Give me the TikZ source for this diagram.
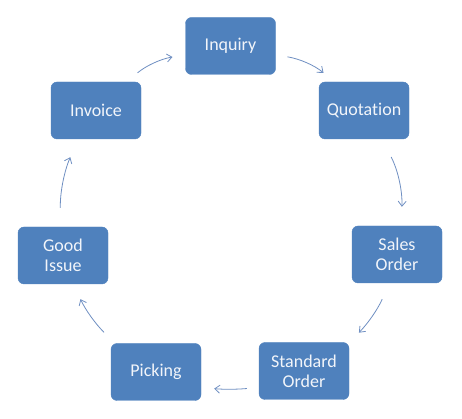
\documentclass[tikz,border=0pt]{standalone}
\usepackage{fontspec}
\setmainfont{Carlito}[Ligatures=NoCommon]
\usetikzlibrary{arrows.meta}
\definecolor{boxblue}{HTML}{4F81BD}
\definecolor{arrblue}{HTML}{6F8FC2}
\definecolor{boxtext}{HTML}{F2F5FA}
\begin{document}
\begin{tikzpicture}[x=1pt,y=1pt,
  stepbox/.style={draw=boxblue,fill=boxblue,rounded corners=6pt,minimum width=90pt,minimum height=57pt,inner sep=0pt,align=center,text=boxtext,font=\fontsize{18}{20}\selectfont},
  flow/.style={draw=arrblue,line width=0.8pt,-{Straight Barb[length=5pt,width=8pt]}}]
\useasboundingbox (0,0) rectangle (462,419);
\node[stepbox] (inq) at (230.5,373) {Inquiry};
\node[stepbox] (quo) at (364,308.5) {Quotation};
\node[stepbox] (sal) at (397,164.5) {Sales\\Order};
\node[stepbox] (std) at (304,48) {Standard\\Order};
\node[stepbox] (pic) at (156,47) {Picking};
\node[stepbox] (goo) at (63,163.5) {Good\\Issue};
\node[stepbox] (inv) at (96,308.5) {Invoice};
\draw[flow,shorten <=14pt,shorten >=13pt] (inv.43.5) to[bend left=15] (inq.191);
\draw[flow,shorten <=12pt,shorten >=14pt] (inq.-11) to[bend left=15] (quo.136.5);
\draw[flow,shorten <=20pt,shorten >=19pt] (quo.-58.2) to[bend left=15] (sal.82);
\draw[flow,shorten <=17.6pt,shorten >=14pt] (sal.-105) to[bend left=10] (std.32.8);
\draw[flow,shorten <=12pt,shorten >=13pt] (std.200.7) to[bend left=5] (pic.-19.6);
\draw[flow,shorten <=15.5pt,shorten >=16.5pt] (pic.145.4) to[bend left=10] (goo.-70.7);
\draw[flow,shorten <=19pt,shorten >=19.6pt] (goo.95.4) to[bend left=12] (inv.-122.7);
\end{tikzpicture}
\end{document}
